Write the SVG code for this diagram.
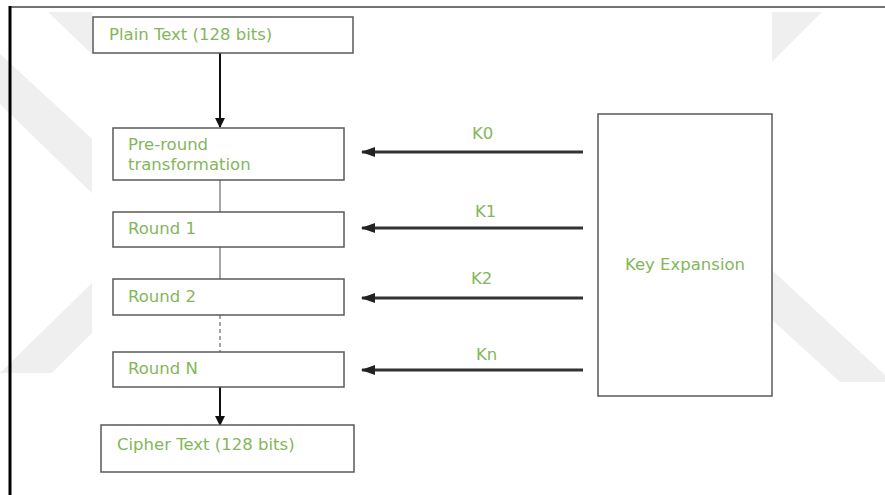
<svg xmlns="http://www.w3.org/2000/svg" width="885" height="495" viewBox="0 0 885 495">
<style>
.box{fill:#ffffff;stroke:#5a5a5a;stroke-width:1.5}
.lbl{font-family:"DejaVu Sans",sans-serif;font-size:16.5px;fill:#84b65a}
.wm{fill:#efefef}
.thin{stroke:#6a6a6a;stroke-width:1.2;fill:none}
.blk{stroke:#111;stroke-width:2;fill:none}
.key{stroke:#333;stroke-width:3;fill:none}
</style>
<defs>
<marker id="ah" markerWidth="10" markerHeight="10" refX="9" refY="5" orient="auto" markerUnits="userSpaceOnUse">
<path d="M0,0 L10,5 L0,10 Z" fill="#111"/>
</marker>
<marker id="ahk" markerWidth="14" markerHeight="12" refX="13" refY="6" orient="auto" markerUnits="userSpaceOnUse">
<path d="M0,1 L14,6 L0,11 Z" fill="#222"/>
</marker>
</defs>
<rect width="885" height="495" fill="#ffffff"/>
<g id="watermark">
<polygon class="wm" points="48,12 150,12 150,110"/>
<polygon class="wm" points="0,54 100,146 100,201 0,104"/>
<polygon class="wm" points="100,275 100,325 52,373 0,373"/>
<polygon class="wm" points="700,12 822,12 700,134"/>
<polygon class="wm" points="700,203 885,375 885,382 840,382 700,254"/>
<rect x="92" y="12" width="680" height="458" fill="#ffffff"/>
</g>
<g id="frame">
<line x1="10" y1="7" x2="885" y2="7" stroke="#444" stroke-width="1.5"/>
<line x1="10" y1="6" x2="10" y2="495" stroke="#000" stroke-width="3"/>
</g>
<g id="connectors">
<line class="blk" x1="220" y1="53" x2="220" y2="127" marker-end="url(#ah)"/>
<line class="thin" x1="220" y1="180" x2="220" y2="212"/>
<line class="thin" x1="220" y1="247" x2="220" y2="279"/>
<line class="thin" x1="220" y1="315" x2="220" y2="352" stroke-dasharray="4,3"/>
<line class="blk" x1="220" y1="387" x2="220" y2="425" marker-end="url(#ah)"/>
<line class="key" x1="583" y1="152" x2="362" y2="152" marker-end="url(#ahk)"/>
<line class="key" x1="583" y1="228" x2="362" y2="228" marker-end="url(#ahk)"/>
<line class="key" x1="583" y1="298" x2="362" y2="298" marker-end="url(#ahk)"/>
<line class="key" x1="583" y1="370" x2="362" y2="370" marker-end="url(#ahk)"/>
<text class="lbl" x="472" y="139">K0</text>
<text class="lbl" x="475" y="217">K1</text>
<text class="lbl" x="471" y="284">K2</text>
<text class="lbl" x="476" y="360">Kn</text>
</g>
<g id="plain">
<rect class="box" x="93" y="17" width="260" height="36"/>
<text class="lbl" x="109" y="40">Plain Text (128 bits)</text>
</g>
<g id="preround">
<rect class="box" x="113" y="128" width="231" height="52"/>
<text class="lbl" x="128" y="150">Pre-round</text>
<text class="lbl" x="128" y="170">transformation</text>
</g>
<g id="round1">
<rect class="box" x="113" y="212" width="231" height="35"/>
<text class="lbl" x="128" y="234">Round 1</text>
</g>
<g id="round2">
<rect class="box" x="113" y="279" width="231" height="36"/>
<text class="lbl" x="128" y="302">Round 2</text>
</g>
<g id="roundn">
<rect class="box" x="113" y="352" width="231" height="35"/>
<text class="lbl" x="128" y="374">Round N</text>
</g>
<g id="cipher">
<rect class="box" x="101" y="425" width="253" height="47"/>
<text class="lbl" x="117" y="450">Cipher Text (128 bits)</text>
</g>
<g id="keyexp">
<rect class="box" x="598" y="114" width="174" height="282"/>
<text class="lbl" x="685" y="270" text-anchor="middle">Key Expansion</text>
</g>
</svg>
